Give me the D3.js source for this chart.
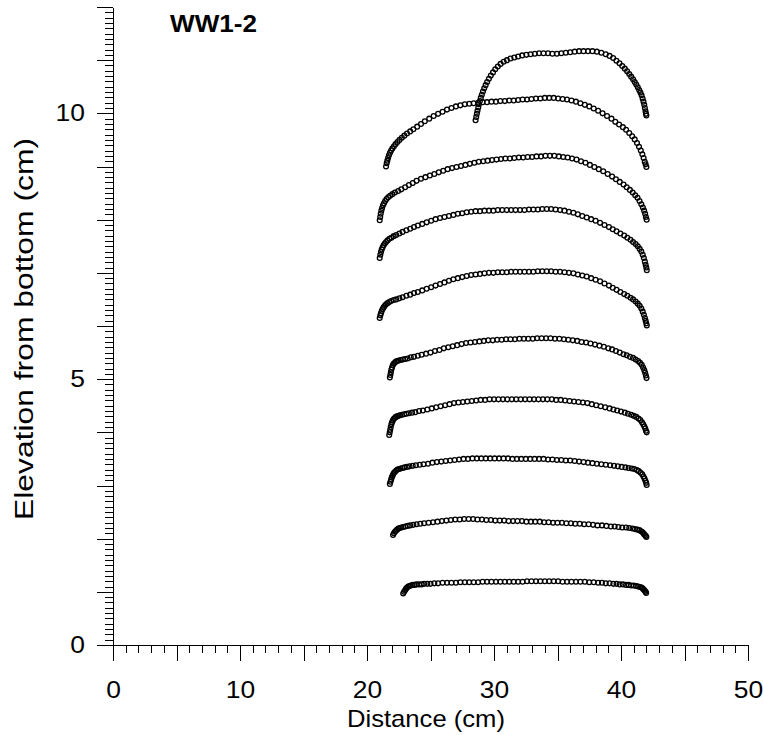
<!DOCTYPE html>
<html>
<head>
<meta charset="utf-8">
<script src="https://cdn.jsdelivr.net/npm/d3@7"></script>
<style>
  html, body { margin: 0; padding: 0; background: #fff; }
  svg { display: block; }
  text { font-family: "Liberation Sans", Arial, Helvetica, sans-serif; fill: #000; }
</style>
</head>
<body>
<svg id="chart" width="763" height="735"></svg>
<script>
// ---------------- DATA ----------------
const chartTitle = "WW1-2";
const xTitle = "Distance (cm)";
const yTitle = "Elevation from bottom (cm)";
const xTickLabels = [0, 10, 20, 30, 40, 50];
const yTickLabels = [0, 5, 10];

const profile1 = [[22.85,0.97],[22.92,1.00],[23.00,1.03],[23.08,1.06],[23.16,1.08],[23.25,1.10],[23.35,1.11],[23.45,1.12],[23.60,1.13],[23.75,1.13],[23.90,1.14],[24.10,1.14],[24.30,1.14],[24.50,1.15],[24.75,1.15],[25.00,1.15],[25.30,1.16],[25.60,1.16],[25.95,1.17],[26.30,1.17],[26.65,1.17],[27.00,1.17],[27.35,1.18],[27.70,1.18],[28.05,1.18],[28.40,1.18],[28.75,1.18],[29.10,1.19],[29.45,1.19],[29.80,1.19],[30.15,1.19],[30.50,1.19],[30.85,1.19],[31.20,1.19],[31.55,1.19],[31.90,1.19],[32.25,1.19],[32.60,1.20],[32.95,1.20],[33.30,1.20],[33.65,1.20],[34.00,1.20],[34.35,1.20],[34.70,1.20],[35.05,1.20],[35.40,1.19],[35.75,1.19],[36.10,1.19],[36.45,1.19],[36.80,1.19],[37.15,1.19],[37.50,1.18],[37.85,1.18],[38.20,1.17],[38.50,1.17],[38.80,1.16],[39.10,1.16],[39.40,1.15],[39.65,1.15],[39.90,1.14],[40.15,1.14],[40.40,1.13],[40.60,1.13],[40.80,1.12],[41.00,1.12],[41.20,1.11],[41.35,1.10],[41.50,1.09],[41.62,1.08],[41.72,1.06],[41.80,1.04],[41.87,1.02],[41.93,1.00],[41.98,0.98]];

const profile2 = [[22.05,2.07],[22.12,2.10],[22.20,2.13],[22.28,2.15],[22.37,2.17],[22.47,2.19],[22.58,2.20],[22.70,2.21],[22.85,2.22],[23.00,2.23],[23.20,2.24],[23.40,2.25],[23.65,2.26],[23.90,2.27],[24.20,2.28],[24.50,2.29],[24.85,2.30],[25.20,2.31],[25.55,2.32],[25.90,2.33],[26.25,2.34],[26.60,2.35],[26.95,2.36],[27.30,2.36],[27.65,2.37],[28.00,2.37],[28.35,2.37],[28.70,2.36],[29.05,2.36],[29.40,2.35],[29.75,2.35],[30.10,2.34],[30.45,2.34],[30.80,2.34],[31.15,2.33],[31.50,2.33],[31.85,2.33],[32.20,2.33],[32.55,2.32],[32.90,2.32],[33.25,2.32],[33.60,2.32],[33.95,2.31],[34.30,2.31],[34.65,2.30],[35.00,2.30],[35.35,2.30],[35.70,2.29],[36.05,2.29],[36.40,2.28],[36.75,2.28],[37.10,2.27],[37.45,2.27],[37.80,2.26],[38.15,2.25],[38.50,2.25],[38.85,2.24],[39.20,2.23],[39.50,2.23],[39.80,2.22],[40.10,2.21],[40.40,2.21],[40.65,2.20],[40.90,2.19],[41.10,2.18],[41.30,2.17],[41.45,2.16],[41.58,2.14],[41.70,2.12],[41.80,2.09],[41.88,2.07],[41.95,2.05],[42.00,2.03]];

const profile3 = [[21.80,3.03],[21.85,3.07],[21.90,3.11],[21.95,3.15],[22.00,3.18],[22.06,3.21],[22.13,3.24],[22.21,3.26],[22.30,3.28],[22.40,3.30],[22.52,3.31],[22.65,3.32],[22.80,3.33],[22.95,3.34],[23.15,3.35],[23.35,3.36],[23.60,3.37],[23.85,3.38],[24.15,3.39],[24.45,3.40],[24.80,3.41],[25.15,3.43],[25.50,3.44],[25.85,3.45],[26.20,3.46],[26.55,3.47],[26.90,3.48],[27.25,3.49],[27.60,3.50],[27.95,3.50],[28.30,3.51],[28.65,3.51],[29.00,3.51],[29.35,3.51],[29.70,3.51],[30.05,3.51],[30.40,3.51],[30.75,3.51],[31.10,3.51],[31.45,3.50],[31.80,3.50],[32.15,3.50],[32.50,3.50],[32.85,3.50],[33.20,3.50],[33.55,3.50],[33.90,3.50],[34.25,3.49],[34.60,3.49],[34.95,3.48],[35.30,3.48],[35.65,3.47],[36.00,3.47],[36.35,3.46],[36.70,3.45],[37.05,3.44],[37.40,3.43],[37.75,3.42],[38.10,3.41],[38.45,3.40],[38.80,3.39],[39.15,3.38],[39.45,3.37],[39.75,3.36],[40.05,3.35],[40.35,3.34],[40.60,3.33],[40.85,3.32],[41.05,3.31],[41.25,3.29],[41.40,3.27],[41.55,3.24],[41.67,3.21],[41.77,3.17],[41.85,3.13],[41.92,3.09],[41.98,3.05],[42.02,3.01]];

const profile4 = [[21.75,3.95],[21.79,4.00],[21.83,4.05],[21.87,4.10],[21.92,4.15],[21.97,4.19],[22.03,4.22],[22.10,4.25],[22.18,4.27],[22.27,4.29],[22.37,4.30],[22.48,4.31],[22.60,4.32],[22.75,4.33],[22.92,4.34],[23.10,4.35],[23.30,4.36],[23.55,4.37],[23.80,4.38],[24.10,4.40],[24.40,4.41],[24.75,4.43],[25.10,4.45],[25.45,4.47],[25.80,4.49],[26.15,4.51],[26.50,4.53],[26.85,4.55],[27.20,4.56],[27.55,4.57],[27.90,4.58],[28.25,4.59],[28.60,4.60],[28.95,4.61],[29.30,4.61],[29.65,4.62],[30.00,4.62],[30.35,4.62],[30.70,4.62],[31.05,4.62],[31.40,4.62],[31.75,4.62],[32.10,4.62],[32.45,4.62],[32.80,4.62],[33.15,4.62],[33.50,4.62],[33.85,4.62],[34.20,4.62],[34.55,4.62],[34.90,4.61],[35.25,4.61],[35.60,4.60],[35.95,4.59],[36.30,4.58],[36.65,4.57],[37.00,4.56],[37.35,4.55],[37.70,4.53],[38.05,4.51],[38.40,4.49],[38.75,4.47],[39.10,4.45],[39.40,4.43],[39.70,4.41],[40.00,4.39],[40.30,4.37],[40.55,4.35],[40.80,4.33],[41.00,4.31],[41.20,4.29],[41.38,4.26],[41.52,4.23],[41.65,4.19],[41.75,4.15],[41.84,4.11],[41.91,4.07],[41.97,4.03],[42.02,4.00]];

const profile5 = [[21.80,5.03],[21.84,5.08],[21.88,5.13],[21.92,5.18],[21.97,5.22],[22.03,5.26],[22.10,5.29],[22.18,5.31],[22.27,5.33],[22.38,5.34],[22.50,5.35],[22.65,5.36],[22.82,5.37],[23.00,5.38],[23.20,5.39],[23.45,5.41],[23.70,5.42],[24.00,5.44],[24.30,5.46],[24.65,5.48],[25.00,5.50],[25.35,5.53],[25.70,5.55],[26.05,5.58],[26.40,5.60],[26.75,5.62],[27.10,5.64],[27.45,5.66],[27.80,5.68],[28.15,5.69],[28.50,5.70],[28.85,5.71],[29.20,5.72],[29.55,5.73],[29.90,5.73],[30.25,5.74],[30.60,5.74],[30.95,5.75],[31.30,5.75],[31.65,5.75],[32.00,5.76],[32.35,5.76],[32.70,5.76],[33.05,5.76],[33.40,5.77],[33.75,5.77],[34.10,5.77],[34.45,5.77],[34.80,5.76],[35.15,5.76],[35.50,5.75],[35.85,5.74],[36.20,5.73],[36.55,5.72],[36.90,5.70],[37.25,5.69],[37.60,5.67],[37.95,5.65],[38.30,5.63],[38.65,5.61],[39.00,5.58],[39.30,5.56],[39.60,5.53],[39.90,5.50],[40.20,5.47],[40.45,5.45],[40.70,5.42],[40.95,5.40],[41.15,5.37],[41.35,5.34],[41.50,5.31],[41.63,5.27],[41.74,5.22],[41.83,5.17],[41.90,5.12],[41.96,5.07],[42.01,5.02]];

const profile6 = [[21.00,6.15],[21.05,6.20],[21.10,6.24],[21.16,6.28],[21.23,6.32],[21.31,6.35],[21.40,6.38],[21.50,6.41],[21.62,6.43],[21.75,6.45],[21.90,6.47],[22.10,6.49],[22.30,6.50],[22.55,6.52],[22.80,6.54],[23.10,6.57],[23.40,6.59],[23.70,6.62],[24.00,6.64],[24.35,6.67],[24.70,6.70],[25.05,6.73],[25.40,6.76],[25.75,6.79],[26.10,6.82],[26.45,6.85],[26.80,6.88],[27.15,6.90],[27.50,6.92],[27.85,6.94],[28.20,6.96],[28.55,6.97],[28.90,6.98],[29.25,6.99],[29.60,7.00],[29.95,7.00],[30.30,7.01],[30.65,7.01],[31.00,7.01],[31.35,7.02],[31.70,7.02],[32.05,7.02],[32.40,7.02],[32.75,7.02],[33.10,7.02],[33.45,7.03],[33.80,7.03],[34.15,7.03],[34.50,7.03],[34.85,7.02],[35.20,7.02],[35.55,7.01],[35.90,7.00],[36.25,6.99],[36.60,6.97],[36.95,6.95],[37.30,6.93],[37.65,6.90],[38.00,6.87],[38.35,6.84],[38.70,6.80],[39.05,6.76],[39.35,6.72],[39.65,6.68],[39.95,6.64],[40.25,6.60],[40.50,6.57],[40.75,6.53],[40.95,6.50],[41.15,6.46],[41.32,6.42],[41.47,6.38],[41.60,6.33],[41.71,6.27],[41.80,6.21],[41.88,6.15],[41.94,6.10],[41.99,6.05],[42.03,6.01]];

const profile7 = [[21.00,7.28],[21.05,7.34],[21.10,7.39],[21.16,7.44],[21.23,7.48],[21.31,7.52],[21.40,7.55],[21.50,7.58],[21.62,7.61],[21.76,7.64],[21.92,7.66],[22.10,7.69],[22.30,7.71],[22.55,7.74],[22.80,7.77],[23.10,7.80],[23.40,7.83],[23.70,7.86],[24.00,7.89],[24.35,7.92],[24.70,7.95],[25.05,7.98],[25.40,8.01],[25.75,8.03],[26.10,8.05],[26.45,8.07],[26.80,8.09],[27.15,8.11],[27.50,8.12],[27.85,8.14],[28.20,8.15],[28.55,8.16],[28.90,8.16],[29.25,8.17],[29.60,8.17],[29.95,8.17],[30.30,8.18],[30.65,8.18],[31.00,8.18],[31.35,8.18],[31.70,8.18],[32.05,8.18],[32.40,8.18],[32.75,8.19],[33.10,8.19],[33.45,8.19],[33.80,8.20],[34.15,8.20],[34.50,8.20],[34.85,8.19],[35.20,8.18],[35.55,8.17],[35.90,8.15],[36.25,8.13],[36.60,8.10],[36.95,8.07],[37.30,8.04],[37.65,8.01],[38.00,7.98],[38.35,7.94],[38.70,7.90],[39.05,7.86],[39.35,7.82],[39.65,7.78],[39.95,7.74],[40.25,7.70],[40.50,7.66],[40.75,7.62],[40.95,7.58],[41.15,7.54],[41.32,7.50],[41.47,7.45],[41.60,7.40],[41.71,7.34],[41.80,7.28],[41.88,7.21],[41.94,7.15],[41.99,7.10],[42.03,7.05]];

const profile8 = [[21.00,7.99],[21.04,8.05],[21.08,8.11],[21.13,8.17],[21.19,8.22],[21.26,8.27],[21.34,8.31],[21.43,8.35],[21.54,8.39],[21.67,8.42],[21.82,8.45],[22.00,8.48],[22.20,8.51],[22.45,8.54],[22.70,8.57],[23.00,8.61],[23.30,8.65],[23.60,8.69],[23.90,8.73],[24.25,8.77],[24.60,8.80],[24.95,8.83],[25.30,8.86],[25.65,8.89],[26.00,8.92],[26.35,8.95],[26.70,8.97],[27.05,8.99],[27.40,9.01],[27.75,9.03],[28.10,9.05],[28.45,9.07],[28.80,9.09],[29.15,9.10],[29.50,9.11],[29.85,9.12],[30.20,9.13],[30.55,9.14],[30.90,9.15],[31.25,9.15],[31.60,9.16],[31.95,9.17],[32.30,9.17],[32.65,9.18],[33.00,9.18],[33.35,9.19],[33.70,9.19],[34.05,9.20],[34.40,9.20],[34.75,9.20],[35.10,9.19],[35.45,9.18],[35.80,9.17],[36.15,9.15],[36.50,9.13],[36.85,9.10],[37.20,9.07],[37.55,9.03],[37.90,8.99],[38.25,8.95],[38.60,8.91],[38.95,8.86],[39.30,8.81],[39.60,8.76],[39.90,8.71],[40.20,8.66],[40.45,8.61],[40.70,8.56],[40.92,8.51],[41.12,8.46],[41.30,8.41],[41.46,8.35],[41.60,8.29],[41.72,8.23],[41.82,8.17],[41.90,8.11],[41.96,8.05],[42.02,8.00]];

const profile9 = [[21.50,9.00],[21.55,9.06],[21.60,9.11],[21.66,9.16],[21.73,9.21],[21.81,9.26],[21.90,9.30],[22.00,9.34],[22.12,9.38],[22.25,9.42],[22.40,9.46],[22.56,9.50],[22.74,9.54],[22.94,9.58],[23.15,9.62],[23.40,9.66],[23.65,9.70],[23.95,9.75],[24.25,9.80],[24.55,9.85],[24.90,9.90],[25.25,9.95],[25.60,9.99],[25.95,10.03],[26.30,10.07],[26.65,10.10],[27.00,10.13],[27.35,10.15],[27.70,10.17],[28.05,10.18],[28.40,10.19],[28.75,10.20],[29.10,10.21],[29.45,10.21],[29.80,10.22],[30.15,10.22],[30.50,10.23],[30.85,10.23],[31.20,10.24],[31.55,10.24],[31.90,10.25],[32.25,10.26],[32.60,10.26],[32.95,10.27],[33.30,10.28],[33.65,10.28],[34.00,10.29],[34.35,10.29],[34.70,10.29],[35.05,10.28],[35.40,10.27],[35.75,10.26],[36.10,10.24],[36.45,10.22],[36.80,10.19],[37.15,10.16],[37.50,10.13],[37.85,10.09],[38.20,10.05],[38.55,10.00],[38.90,9.95],[39.25,9.90],[39.55,9.84],[39.85,9.79],[40.15,9.74],[40.40,9.69],[40.65,9.63],[40.88,9.57],[41.08,9.51],[41.26,9.44],[41.42,9.37],[41.56,9.30],[41.68,9.23],[41.78,9.16],[41.87,9.09],[41.94,9.04],[42.00,8.99]];

const profile10 = [[28.55,9.87],[28.60,9.93],[28.65,9.99],[28.70,10.05],[28.76,10.11],[28.82,10.17],[28.89,10.23],[28.96,10.29],[29.04,10.35],[29.13,10.41],[29.23,10.47],[29.34,10.53],[29.46,10.59],[29.60,10.65],[29.75,10.71],[29.92,10.77],[30.10,10.83],[30.30,10.88],[30.52,10.93],[30.76,10.97],[31.02,11.00],[31.30,11.03],[31.60,11.05],[31.90,11.07],[32.22,11.09],[32.55,11.10],[32.88,11.11],[33.21,11.12],[33.55,11.13],[33.90,11.13],[34.25,11.13],[34.60,11.12],[34.95,11.12],[35.30,11.13],[35.65,11.14],[36.00,11.15],[36.35,11.16],[36.70,11.17],[37.05,11.17],[37.40,11.17],[37.75,11.17],[38.10,11.16],[38.45,11.14],[38.80,11.11],[39.10,11.08],[39.38,11.04],[39.64,10.99],[39.88,10.94],[40.10,10.89],[40.30,10.84],[40.48,10.79],[40.65,10.74],[40.80,10.69],[40.95,10.64],[41.08,10.59],[41.20,10.54],[41.32,10.49],[41.43,10.44],[41.53,10.39],[41.62,10.34],[41.70,10.28],[41.77,10.22],[41.83,10.16],[41.88,10.10],[41.93,10.04],[41.97,9.99],[42.00,9.96]];

const profiles = [profile1, profile2, profile3, profile4, profile5, profile6, profile7, profile8, profile9, profile10];

// ---------------- CHART ----------------
const svg = d3.select("#chart");
const x = d3.scaleLinear().domain([0, 50]).range([113, 748]);
const y = d3.scaleLinear().domain([0, 12]).range([645, 7]);

// minor / major tick positions (axis structure)
const xMinor = d3.range(0, 51, 1);
const xMajor = d3.range(0, 51, 5);
const yMinor = d3.range(0, 121).map(i => i / 10);
const yMajor = d3.range(0, 13, 1);

// horizontally widen glyphs to match the reference's broader sans face
function widen(sel, factor) {
  sel.each(function () {
    const w = this.getComputedTextLength();
    if (w > 0) {
      this.setAttribute("textLength", (w * factor).toFixed(1));
      this.setAttribute("lengthAdjust", "spacingAndGlyphs");
    }
  });
}

function styleAxis(g) {
  g.selectAll("path, line").attr("stroke", "#000").attr("stroke-width", 1).attr("shape-rendering", "crispEdges");
  g.selectAll("text").style("font-family", '"Liberation Sans", Arial, sans-serif').style("font-size", "23px").attr("fill", "#000");
}

// X axis
svg.append("g").attr("transform", `translate(0,${y(0)})`)
  .call(d3.axisBottom(x).tickValues(xMinor).tickSize(8).tickSizeOuter(0).tickFormat(""))
  .call(styleAxis);
const gx = svg.append("g").attr("transform", `translate(0,${y(0)})`)
  .call(d3.axisBottom(x).tickValues(xMajor).tickSize(16).tickSizeOuter(0).tickPadding(21)
    .tickFormat(d => xTickLabels.includes(d) ? d : ""))
  .call(styleAxis);
widen(gx.selectAll("text"), 1.15);

// Y axis
svg.append("g").attr("transform", `translate(${x(0)},0)`)
  .call(d3.axisLeft(y).tickValues(yMinor).tickSize(8).tickSizeOuter(0).tickFormat(""))
  .call(styleAxis);
const gy = svg.append("g").attr("transform", `translate(${x(0)},0)`)
  .call(d3.axisLeft(y).tickValues(yMajor).tickSize(16).tickSizeOuter(0).tickPadding(12)
    .tickFormat(d => yTickLabels.includes(d) ? d : ""))
  .call(styleAxis);
widen(gy.selectAll("text"), 1.15);

// points
const gPts = svg.append("g");
profiles.forEach(p => {
  gPts.selectAll(null).data(p).enter().append("circle")
    .attr("cx", d => x(d[0]))
    .attr("cy", d => y(d[1]))
    .attr("r", 2.4)
    .attr("fill", "none")
    .attr("stroke", "#000")
    .attr("stroke-width", 1.3);
});

// titles
svg.append("text").attr("x", 426).attr("y", 727)
  .attr("text-anchor", "middle").style("font-size", "24px")
  .attr("textLength", 158).attr("lengthAdjust", "spacingAndGlyphs").text(xTitle);
svg.append("text").attr("transform", "translate(33,329) rotate(-90)")
  .attr("text-anchor", "middle").style("font-size", "26px")
  .attr("textLength", 382).attr("lengthAdjust", "spacingAndGlyphs").text(yTitle);
svg.append("text").attr("x", 170).attr("y", 32)
  .style("font-size", "23px").style("font-weight", "bold")
  .attr("textLength", 87).attr("lengthAdjust", "spacingAndGlyphs").text(chartTitle);
</script>
</body>
</html>
